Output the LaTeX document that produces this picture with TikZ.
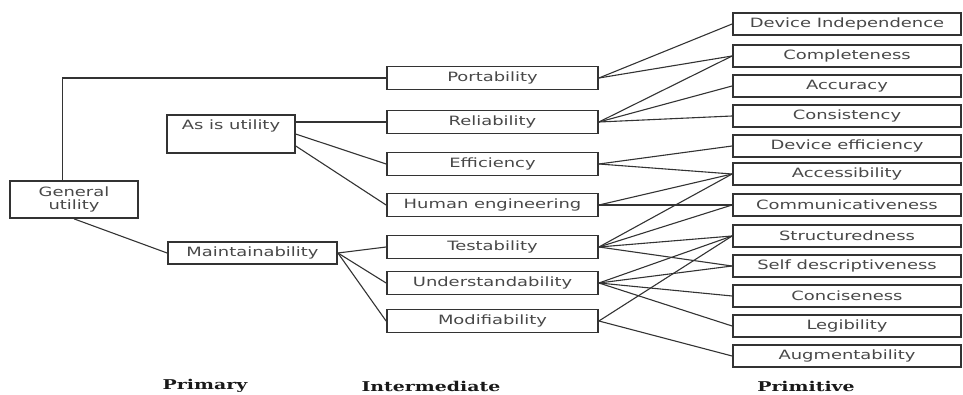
\documentclass[tikz,border=0pt]{standalone}
\usepackage{fontspec}
\newfontfamily\boxfont{DejaVu Sans}[FakeStretch=1.4]
\newfontfamily\headfont{DejaVu Serif}[FakeStretch=1.4]
\usetikzlibrary{calc}
\definecolor{ink}{HTML}{333333}
\definecolor{txtc}{HTML}{484848}
\tikzset{
  box/.style={draw=ink, line width=1.8pt, rectangle, inner sep=0pt, fill=white,
              font=\boxfont\fontsize{12.8}{14}\selectfont, text=txtc, align=center},
  prim/.style={box, minimum width=228pt, minimum height=22pt},
  inter/.style={box, minimum width=211pt, minimum height=23pt},
  conn/.style={draw=ink, line width=1.1pt},
  head/.style={font=\headfont\bfseries\fontsize{13.5}{15}\selectfont, text=black!90, inner sep=0pt},
  plain/.style={font=\boxfont\fontsize{12.8}{14}\selectfont, text=txtc, inner sep=0pt}
}
\begin{document}
\begin{tikzpicture}[x=1pt,y=-1pt]
\useasboundingbox (0,0) rectangle (963,395);
% primitive
\node[prim] (di)  at (847,24)  {Device Independence};
\node[prim] (com) at (847,56)  {Completeness};
\node[prim] (acc) at (847,86)  {Accuracy};
\node[prim] (cons) at (847,116) {Consistency};
\node[prim] (de)  at (847,146) {Device efficiency};
\node[prim] (acs) at (847,174) {Accessibility};
\node[prim] (cmm) at (847,205) {Communicativeness};
\node[prim] (str) at (847,236) {Structuredness};
\node[prim] (sd)  at (847,266) {Self descriptiveness};
\node[prim] (conc) at (847,296) {Conciseness};
\node[prim] (leg) at (847,326) {Legibility};
\node[prim] (aug) at (847,356) {Augmentability};
% intermediate
\node[inter] (port) at (492.5,78)  {Portability};
\node[inter] (rel)  at (492.5,122) {Reliability};
\node[inter] (eff)  at (492.5,164) {Efficiency};
\node[inter] (hum)  at (492.5,205) {Human engineering};
\node[inter] (test) at (492.5,247) {Testability};
\node[inter] (und)  at (492.5,283) {Understandability};
\node[inter] (mod)  at (492.5,321) {Modifiability};
% primary
\node[box, minimum width=128pt, minimum height=38pt] (asis) at (231,134) {};
\node[plain] (asisT) at ($(asis.north)+(0,12)$) {As is utility};
\node[box, minimum width=169pt, minimum height=22pt] (main) at (252.5,253) {Maintainability};
\node[box, minimum width=128pt, minimum height=37pt] (gen) at (74,199.5) {General\\[-1pt]utility};
% headers
\node[head] (hP) at (205,386) {Primary};
\node[head] (hI) at (431,386) {Intermediate};
\node[head] (hQ) at (806,386) {Primitive};
% connectors
\coordinate (gtop) at ($(gen.north west)+(53,0)$);
\draw[conn] (gtop) |- (port.west);
\draw[conn] ($(gen.south west)+(65,0)$) -- (main.west);
\draw[conn] (asis.east |- rel.west) -- (rel.west);
\draw[conn] ($(asis.north east)+(0,20)$) -- (eff.west);
\draw[conn] ($(asis.north east)+(0,32)$) -- (hum.west);
\foreach \t in {test,und,mod} \draw[conn] (main.east) -- (\t.west);
\foreach \t in {di,com} \draw[conn] (port.east) -- (\t.west);
\foreach \t in {com,acc,cons} \draw[conn] (rel.east) -- (\t.west);
\foreach \t in {de,acs} \draw[conn] (eff.east) -- (\t.west);
\foreach \t in {acs,cmm} \draw[conn] (hum.east) -- (\t.west);
\foreach \t in {acs,cmm,str,sd} \draw[conn] (test.east) -- (\t.west);
\foreach \t in {str,sd,conc,leg} \draw[conn] (und.east) -- (\t.west);
\foreach \t in {str,aug} \draw[conn] (mod.east) -- (\t.west);
\end{tikzpicture}
\end{document}
